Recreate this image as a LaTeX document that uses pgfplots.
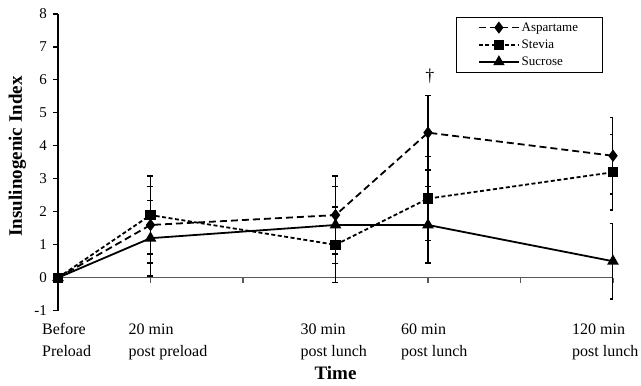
\documentclass[border=0pt]{standalone}
\usepackage{fontspec}
\setmainfont{Liberation Serif}
\usepackage{pgfplots}
\pgfplotsset{compat=1.18}
\definecolor{axgray}{gray}{0.35}
\newcommand{\lgf}{\fontsize{13}{15}\selectfont}
\newcommand{\lbf}{\fontsize{19}{21}\selectfont\bfseries}
\begin{document}
\begin{tikzpicture}[x=1pt,y=1pt]
\useasboundingbox (0,0) rectangle (641,386);
\begin{axis}[
  at={(58pt,75.3pt)}, anchor=south west,
  width=555pt, height=296.7pt, scale only axis,
  xmin=0, xmax=6, ymin=-1, ymax=8,
  axis x line*=middle, axis y line*=left,
  hide obscured x ticks=false, hide obscured y ticks=false,
  x axis line style={axgray, line width=1.3pt},
  y axis line style={black, line width=1.2pt},
  tick align=outside, major tick length=5pt,
  xtick={0,1,2,3,4,5,6},
  ytick={-1,0,1,2,3,4,5,6,7,8},
  x tick style={axgray, line width=1.2pt},
  y tick style={black, line width=1.1pt},
  /pgf/number format/assume math mode=true,
  yticklabel style={font=\fontsize{15}{18}\selectfont, inner sep=0pt, xshift=-6pt},
  xticklabel style={font=\fontsize{16}{22}\selectfont, anchor=north west, inner sep=0pt, yshift=-36pt},
  xticklabels={
    {\hspace*{-16pt}\begin{tabular}[t]{@{}l@{}}Before\\Preload\end{tabular}},
    {\hspace*{-22pt}\begin{tabular}[t]{@{}l@{}}20 min\\post preload\end{tabular}},
    {},
    {\hspace*{-35pt}\begin{tabular}[t]{@{}l@{}}30 min\\post lunch\end{tabular}},
    {\hspace*{-27pt}\begin{tabular}[t]{@{}l@{}}60 min\\post lunch\end{tabular}},
    {},
    {\hspace*{-41pt}\begin{tabular}[t]{@{}l@{}}120 min\\post lunch\end{tabular}}},
  xlabel={\lbf Time},
  xlabel style={at={(axis description cs:0.5,0)}, anchor=base, yshift=-69.3pt},
  ylabel={\lbf Insulinogenic Index},
  ylabel style={at={(axis description cs:-0.073,0.52)}, anchor=center},
  legend style={at={(axis description cs:0.7166,0.991)}, anchor=north west, draw=black, thick,
    font=\lgf, inner xsep=22pt, inner ysep=3.5pt, row sep=3pt},
  legend cell align=left,
  legend image code/.code={\draw[mark repeat=2, mark phase=2, line width=1.6pt] plot coordinates {(0pt,0pt) (20pt,0pt) (40pt,0pt)};},
  error bars/error bar style={solid, black, line width=1.5pt},
  error bars/error mark options={solid, black, rotate=90, mark size=3pt, line width=1.5pt},
]
\addplot[black, line width=1.8pt, dash pattern=on 7pt off 4pt, mark=diamond*, mark size=4.8pt, mark options={solid},
  error bars/.cd, y dir=both, y explicit]
  coordinates {(0,0) +- (0,0) (1,1.6) +- (0,1.16) (3,1.9) +- (0,1.18) (4,4.4) +- (0,1.13) (6,3.7) +- (0,1.16)};
\addlegendentry{\lgf Aspartame}
\addplot[black, line width=1.8pt, dash pattern=on 4pt off 2.5pt, mark=square*, mark size=4.3pt, mark options={solid},
  error bars/.cd, y dir=both, y explicit]
  coordinates {(0,0) +- (0,0) (1,1.9) +- (0,1.18) (3,1.0) +- (0,1.15) (4,2.4) +- (0,1.27) (6,3.2) +- (0,1.15)};
\addlegendentry{\lgf Stevia}
\addplot[black, line width=1.8pt, solid, mark=triangle*, mark size=5pt, mark options={solid},
  error bars/.cd, y dir=both, y explicit]
  coordinates {(0,0) +- (0,0) (1,1.2) +- (0,1.15) (3,1.6) +- (0,1.17) (4,1.6) +- (0,1.16) (6,0.5) +- (0,1.15)};
\addlegendentry{\lgf Sucrose}
\node[font=\fontsize{18}{18}\selectfont] at (axis cs:4.02,6.12) {†};
\end{axis}
\end{tikzpicture}
\end{document}
